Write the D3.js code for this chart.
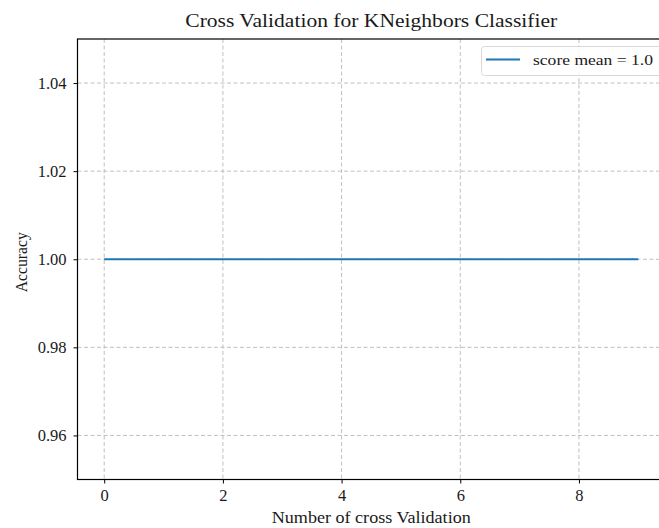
<!DOCTYPE html>
<html>
<head>
<meta charset="utf-8">
<script src="https://cdn.jsdelivr.net/npm/d3@7"></script>
<style>
  html, body { margin: 0; padding: 0; background: #fff; }
  svg { display: block; font-family: "Liberation Serif", "DejaVu Serif", serif; }
</style>
</head>
<body>
<svg id="chart" width="659" height="528"></svg>
<script>
const folds = [0, 1, 2, 3, 4, 5, 6, 7, 8, 9];
const scores = [1.0, 1.0, 1.0, 1.0, 1.0, 1.0, 1.0, 1.0, 1.0, 1.0];
const xTicks = [0, 2, 4, 6, 8];
const yTicks = [0.96, 0.98, 1.00, 1.02, 1.04];
const titleText = "Cross Validation for KNeighbors Classifier";
const xLabel = "Number of cross Validation";
const yLabel = "Accuracy";
const legendLabel = "score mean = 1.0";

(function () {
const svg = d3.select("#chart");
const mLeft = 77.5, mRight = 665, mTop = 39, mBottom = 479.5;

const x = d3.scaleLinear().domain([-0.45, 9.45]).range([mLeft, mRight]);
const y = d3.scaleLinear().domain([0.95, 1.05]).range([mBottom, mTop]);

// grid
const grid = svg.append("g");
grid.selectAll("line.gx").data(xTicks).join("line")
  .attr("x1", d => x(d)).attr("x2", d => x(d))
  .attr("y1", mTop).attr("y2", mBottom)
  .attr("stroke", "#b0b0b0").attr("stroke-width", 0.8).attr("stroke-dasharray", "4,2.5");
grid.selectAll("line.gy").data(yTicks).join("line")
  .attr("x1", mLeft).attr("x2", mRight)
  .attr("y1", d => y(d)).attr("y2", d => y(d))
  .attr("stroke", "#b0b0b0").attr("stroke-width", 0.8).attr("stroke-dasharray", "4,2.5");

// line
const line = d3.line().x((d, i) => x(folds[i])).y(d => y(d));
svg.append("path").datum(scores)
  .attr("d", line).attr("fill", "none")
  .attr("stroke", "#1f77b4").attr("stroke-width", 1.8);

// axes
const xAxis = d3.axisBottom(x).tickValues(xTicks).tickFormat(d3.format("d")).tickSize(4).tickPadding(6);
const yAxis = d3.axisLeft(y).tickValues(yTicks).tickFormat(d3.format(".2f")).tickSize(4).tickPadding(7);

const gx = svg.append("g").attr("transform", `translate(0,${mBottom})`).call(xAxis);
const gy = svg.append("g").attr("transform", `translate(${mLeft},0)`).call(yAxis);
[gx, gy].forEach(g => {
  g.select(".domain").remove();
  g.selectAll("line").attr("stroke", "#000").attr("stroke-width", 1);
  g.selectAll("text").attr("font-size", 16.5).attr("fill", "#1a1a1a")
    .attr("font-family", "'Liberation Serif', serif");
});

// spines
svg.append("rect").attr("x", mLeft).attr("y", mTop)
  .attr("width", mRight - mLeft).attr("height", mBottom - mTop)
  .attr("fill", "none").attr("stroke", "#000").attr("stroke-width", 1.2);

// title
svg.append("text").attr("x", (mLeft + mRight) / 2).attr("y", 27)
  .attr("text-anchor", "middle").attr("font-size", 18.5).attr("fill", "#1a1a1a")
  .attr("textLength", 372).attr("lengthAdjust", "spacingAndGlyphs")
  .text(titleText);

// x label
svg.append("text").attr("x", (mLeft + mRight) / 2).attr("y", 523)
  .attr("text-anchor", "middle").attr("font-size", 16).attr("fill", "#1a1a1a")
  .attr("textLength", 199).attr("lengthAdjust", "spacingAndGlyphs")
  .text(xLabel);

// y label
svg.append("text").attr("transform", `translate(27,${(mTop + mBottom) / 2 + 3}) rotate(-90)`)
  .attr("text-anchor", "middle").attr("font-size", 16).attr("fill", "#1a1a1a")
  .attr("textLength", 60).attr("lengthAdjust", "spacingAndGlyphs")
  .text(yLabel);

// legend
const lg = svg.append("g");
lg.append("rect").attr("x", 481.5).attr("y", 46.5).attr("width", 180).attr("height", 29)
  .attr("rx", 3).attr("fill", "#fff").attr("fill-opacity", 0.85)
  .attr("stroke", "#d8d8d8").attr("stroke-width", 1);
lg.append("line").attr("x1", 486).attr("x2", 520).attr("y1", 59.5).attr("y2", 59.5)
  .attr("stroke", "#1f77b4").attr("stroke-width", 1.8);
lg.append("text").attr("x", 533).attr("y", 65).attr("font-size", 15.5).attr("fill", "#1a1a1a")
  .attr("textLength", 120).attr("lengthAdjust", "spacingAndGlyphs")
  .text(legendLabel);
})();
</script>
</body>
</html>
